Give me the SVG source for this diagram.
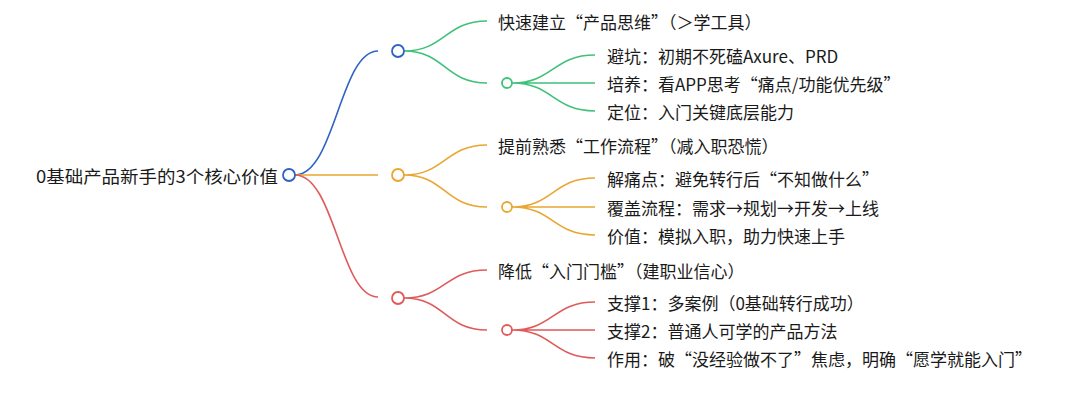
<svg xmlns="http://www.w3.org/2000/svg" width="1080" height="405" viewBox="0 0 1080 405">
<style>
text{font-family:"Noto Sans CJK SC","Liberation Sans",sans-serif;font-size:17px;fill:#1a1a1a;dominant-baseline:central}
path{fill:none;stroke-width:1.6}
circle{fill:#fff;stroke-width:1.8}
.b{stroke:#2f62c5}.g{stroke:#3fc178}.o{stroke:#e9a631}.r{stroke:#e05a5a}
</style>
<rect width="1080" height="405" fill="#fff"/>
<g id="connectors">
<path class="b" d="M295,175 C335,175 340,51 378,51"/>
<path class="o" d="M295,175 L378,175"/>
<path class="r" d="M295,175 C335,175 340,297 378,297"/>
<path class="g" d="M404,51 C445,51 445,21 487,21 M404,51 C445,51 445,83 487,83"/>
<path class="g" d="M512,83 C553,83 553,55 595,55 M512,83 L595,83 M512,83 C553,83 553,111 595,111"/>
<path class="o" d="M404,175 C445,175 445,145 487,145 M404,175 C445,175 445,207 487,207"/>
<path class="o" d="M512,207 C553,207 553,178 595,178 M512,207 L595,207 M512,207 C553,207 553,235 595,235"/>
<path class="r" d="M404,298 C445,298 445,270 487,270 M404,298 C445,298 445,330 487,330"/>
<path class="r" d="M512,330 C553,330 553,302 595,302 M512,330 L595,330 M512,330 C553,330 553,358 595,358"/>
</g>
<g id="root"><circle class="b" cx="289" cy="175" r="6"/><text x="36" y="175" textLength="242" lengthAdjust="spacingAndGlyphs">0基础产品新手的3个核心价值</text></g>
<g id="n1"><circle class="b" cx="398" cy="51" r="6"/></g>
<g id="n1a"><text x="498" y="21">快速建立“产品思维”（＞学工具）</text></g>
<g id="n1b"><circle class="g" cx="507" cy="83" r="5"/></g>
<g id="n1b1"><text x="607" y="55">避坑：初期不死磕Axure、PRD</text></g>
<g id="n1b2"><text x="607" y="83">培养：看APP思考“痛点/功能优先级”</text></g>
<g id="n1b3"><text x="607" y="111">定位：入门关键底层能力</text></g>
<g id="n2"><circle class="o" cx="398" cy="175" r="6"/></g>
<g id="n2a"><text x="498" y="145">提前熟悉“工作流程”（减入职恐慌）</text></g>
<g id="n2b"><circle class="o" cx="507" cy="207" r="5"/></g>
<g id="n2b1"><text x="607" y="178">解痛点：避免转行后“不知做什么”</text></g>
<g id="n2b2"><text x="607" y="207">覆盖流程：需求→规划→开发→上线</text></g>
<g id="n2b3"><text x="607" y="235">价值：模拟入职，助力快速上手</text></g>
<g id="n3"><circle class="r" cx="398" cy="298" r="6"/></g>
<g id="n3a"><text x="498" y="270">降低“入门门槛”（建职业信心）</text></g>
<g id="n3b"><circle class="r" cx="507" cy="330" r="5"/></g>
<g id="n3b1"><text x="607" y="302">支撑1：多案例（0基础转行成功）</text></g>
<g id="n3b2"><text x="607" y="330">支撑2：普通人可学的产品方法</text></g>
<g id="n3b3"><text x="607" y="358">作用：破“没经验做不了”焦虑，明确“愿学就能入门”</text></g>
</svg>
